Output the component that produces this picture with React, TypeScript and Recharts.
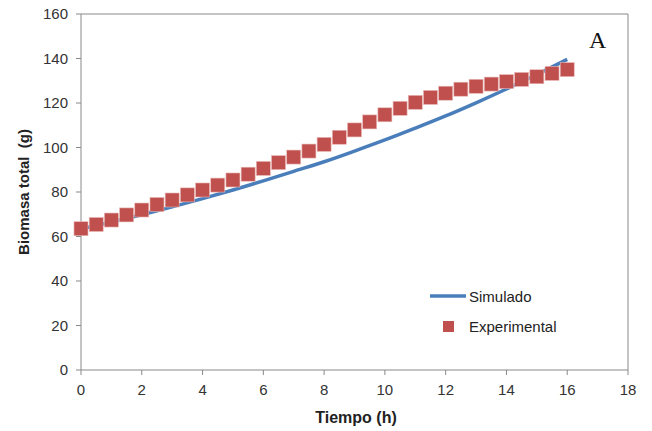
import React from "react"
import { ComposedChart, Line, Scatter, XAxis, YAxis, ReferenceLine } from "recharts"

// horas
const simHours = [0, 1, 2, 3, 4, 5, 6, 7, 8, 9, 10, 11, 12, 13, 14, 15, 16]
const simBiomass = [63.4, 66.5, 69.8, 73.3, 77.0, 80.9, 85.0, 89.3, 93.6, 98.4, 103.4, 108.7, 114.2, 120.1, 126.3, 132.8, 139.6]

const expHours = [
  0, 0.5, 1, 1.5, 2, 2.5, 3, 3.5, 4, 4.5, 5, 5.5, 6, 6.5, 7, 7.5, 8,
  8.5, 9, 9.5, 10, 10.5, 11, 11.5, 12, 12.5, 13, 13.5, 14, 14.5, 15, 15.5, 16,
]
const expBiomass = [
  63.5, 65.4, 67.4, 69.7, 71.9, 74.4, 76.4, 78.7, 80.9, 83.1, 85.4, 88.0, 90.6, 93.2, 95.7, 98.4, 101.4,
  104.6, 107.9, 111.5, 114.7, 117.6, 120.3, 122.5, 124.4, 126.2, 127.5, 128.5, 129.6, 130.6, 131.8, 133.3, 135.0,
]

const xTicks = [0, 2, 4, 6, 8, 10, 12, 14, 16, 18]
const yTicks = [0, 20, 40, 60, 80, 100, 120, 140, 160]

const simData = simHours.map((t, i) => ({ t, sim: simBiomass[i] }))
const expData = expHours.map((t, i) => ({ t, exp: expBiomass[i] }))

const AXIS = "#898989"
const FONT = "Liberation Sans, Arial, sans-serif"
const TICK = { fontSize: 15, fill: "#333", fontFamily: FONT }

function SquareShape(props: any) {
  const { cx, cy } = props
  return <rect x={cx - 7} y={cy - 7} width={14} height={14} fill="#C0504D" stroke="#E8B8B6" strokeWidth={0.6} />
}

function LegendBox() {
  return (
    <div style={{ position: "absolute", left: 429, top: 286, fontFamily: FONT, fontSize: 15, color: "#222" }}>
      <div style={{ display: "flex", alignItems: "center", height: 20 }}>
        <svg width={38} height={10}>
          <line x1={1} y1={5} x2={37} y2={5} stroke="#4A7EBB" strokeWidth={3.5} />
        </svg>
        <span style={{ marginLeft: 2 }}>Simulado</span>
      </div>
      <div style={{ display: "flex", alignItems: "center", height: 20, marginTop: 10 }}>
        <svg width={38} height={12}>
          <rect x={14} y={1} width={11} height={11} fill="#C0504D" />
        </svg>
        <span style={{ marginLeft: 2 }}>Experimental</span>
      </div>
    </div>
  )
}

export default function App() {
  return (
    <div style={{ position: "absolute", left: 0, top: 0, width: 652, height: 431, background: "#fff" }}>
      <ComposedChart width={652} height={431} margin={{ top: 14, right: 24, bottom: 0, left: 0 }}>
        <XAxis
          xAxisId="x"
          dataKey="t"
          type="number"
          domain={[0, 18]}
          ticks={xTicks}
          interval={0}
          stroke={AXIS}
          tickSize={5}
          tick={TICK}
          tickMargin={9}
          height={61}
        />
        <YAxis
          yAxisId="y"
          type="number"
          domain={[0, 160]}
          ticks={yTicks}
          interval={0}
          stroke={AXIS}
          tickSize={5}
          tick={TICK}
          tickMargin={8}
          width={81}
        />
        <ReferenceLine xAxisId="x" yAxisId="y" y={160} stroke={AXIS} strokeWidth={1} ifOverflow="extendDomain" />
        <ReferenceLine xAxisId="x" yAxisId="y" x={18} stroke={AXIS} strokeWidth={1} />
        <Line
          xAxisId="x"
          yAxisId="y"
          data={simData}
          dataKey="sim"
          name="Simulado"
          type="monotone"
          stroke="#4A7EBB"
          strokeWidth={3.5}
          dot={false}
          activeDot={false}
          isAnimationActive={false}
        />
        <Scatter
          xAxisId="x"
          yAxisId="y"
          data={expData}
          dataKey="exp"
          name="Experimental"
          shape={SquareShape}
          isAnimationActive={false}
        />
      </ComposedChart>
      <svg width={652} height={431} style={{ position: "absolute", left: 0, top: 0, pointerEvents: "none" }}>
        <text x={356} y={423} textAnchor="middle" fontFamily={FONT} fontSize={16} fontWeight="bold" fill="#222">
          Tiempo (h)
        </text>
        <text
          x={29}
          y={192}
          transform="rotate(-90 29 192)"
          textAnchor="middle"
          fontFamily={FONT}
          fontSize={15}
          fontWeight="bold"
          fill="#222"
          style={{ whiteSpace: "pre" }}
        >
          {"Biomasa total  (g)"}
        </text>
      </svg>
      <LegendBox />
      <div
        style={{
          position: "absolute",
          left: 589,
          top: 27,
          fontFamily: "Liberation Serif, Times New Roman, serif",
          fontSize: 24,
          color: "#111",
        }}
      >
        A
      </div>
    </div>
  )
}
